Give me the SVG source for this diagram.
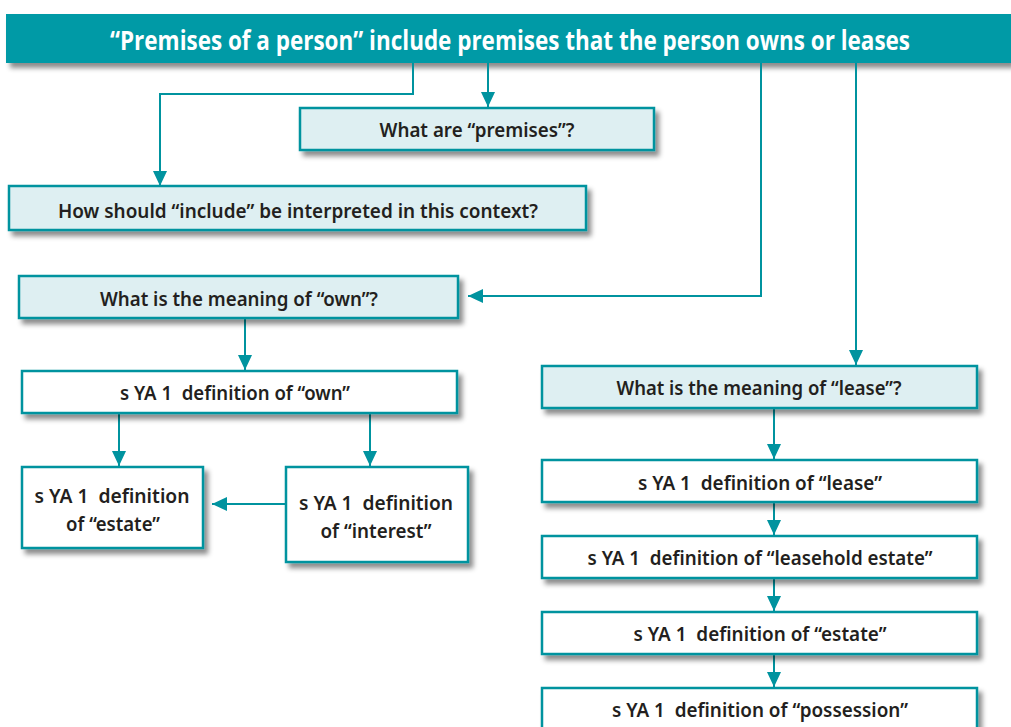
<svg xmlns="http://www.w3.org/2000/svg" width="1011" height="727" viewBox="0 0 1011 727">
<defs>
<filter id="sh" x="-10%" y="-20%" width="130%" height="160%">
<feDropShadow dx="4" dy="5" stdDeviation="2.5" flood-color="#000" flood-opacity="0.45"/>
</filter>
<marker id="ah" viewBox="0 0 15 14" refX="15" refY="7" markerWidth="15" markerHeight="14" markerUnits="userSpaceOnUse" orient="auto">
<path d="M0,0 L15,7 L0,14 Z" fill="#00939F"/>
</marker>
<style>
.q{fill:#DEEFF2;stroke:#00939F;stroke-width:2.5;filter:url(#sh)}
.d{fill:#FFFFFF;stroke:#00939F;stroke-width:2.5;filter:url(#sh)}
.t{font-family:"Noto Sans","Open Sans",sans-serif;font-weight:600;font-size:19.5px;fill:#231F20;text-anchor:middle}
.c{fill:none;stroke:#00939F;stroke-width:2}
</style>
</defs>
<rect width="1011" height="727" fill="#FFFFFF"/>
<g id="banner">
<rect x="6" y="14" width="1005" height="49" fill="#009AA6" filter="url(#sh)"/>
<text transform="translate(510,50) scale(1,1.13)" x="0" y="0" font-family="'Open Sans','Noto Sans',sans-serif" font-weight="700" font-size="23" fill="#FFFFFF" text-anchor="middle" textLength="800" lengthAdjust="spacingAndGlyphs">“Premises of a person” include premises that the person owns or leases</text>
</g>
<g id="connectors">
<polyline class="c" points="413,63 413,94 160,94 160,186" marker-end="url(#ah)"/>
<line class="c" x1="488" y1="63" x2="488" y2="107" marker-end="url(#ah)"/>
<polyline class="c" points="761,63 761,296 468,296" marker-end="url(#ah)"/>
<line class="c" x1="856" y1="63" x2="856" y2="365" marker-end="url(#ah)"/>
<line class="c" x1="245" y1="318" x2="245" y2="370" marker-end="url(#ah)"/>
<line class="c" x1="119" y1="413" x2="119" y2="466" marker-end="url(#ah)"/>
<line class="c" x1="370" y1="413" x2="370" y2="466" marker-end="url(#ah)"/>
<line class="c" x1="286" y1="504" x2="212" y2="504" marker-end="url(#ah)"/>
<line class="c" x1="774" y1="409" x2="774" y2="459" marker-end="url(#ah)"/>
<line class="c" x1="774" y1="503" x2="774" y2="535" marker-end="url(#ah)"/>
<line class="c" x1="774" y1="579" x2="774" y2="611" marker-end="url(#ah)"/>
<line class="c" x1="774" y1="654" x2="774" y2="687" marker-end="url(#ah)"/>
</g>
<g id="premises">
<rect class="q" x="300" y="108" width="354" height="42"/>
<text class="t" x="477" y="137" textLength="195" lengthAdjust="spacingAndGlyphs">What are “premises”?</text>
</g>
<g id="include">
<rect class="q" x="9" y="186" width="577" height="44"/>
<text class="t" x="298" y="218" textLength="480" lengthAdjust="spacingAndGlyphs">How should “include” be interpreted in this context?</text>
</g>
<g id="own-q">
<rect class="q" x="19" y="276" width="439" height="42"/>
<text class="t" x="239" y="306" textLength="278" lengthAdjust="spacingAndGlyphs">What is the meaning of “own”?</text>
</g>
<g id="own-def">
<rect class="d" x="22" y="371" width="435" height="42"/>
<text class="t" x="235" y="400" textLength="230" lengthAdjust="spacingAndGlyphs" xml:space="preserve">s YA 1  definition of “own”</text>
</g>
<g id="estate-left">
<rect class="d" x="22" y="467" width="181" height="81"/>
<text class="t" x="112" y="503" textLength="155" lengthAdjust="spacingAndGlyphs" xml:space="preserve">s YA 1  definition</text>
<text class="t" x="113" y="531" textLength="94" lengthAdjust="spacingAndGlyphs">of “estate”</text>
</g>
<g id="interest">
<rect class="d" x="286" y="467" width="182" height="95"/>
<text class="t" x="376" y="510" textLength="154" lengthAdjust="spacingAndGlyphs" xml:space="preserve">s YA 1  definition</text>
<text class="t" x="376" y="538" textLength="111" lengthAdjust="spacingAndGlyphs">of “interest”</text>
</g>
<g id="lease-q">
<rect class="q" x="542" y="366" width="435" height="42"/>
<text class="t" x="759" y="395" textLength="285" lengthAdjust="spacingAndGlyphs">What is the meaning of “lease”?</text>
</g>
<g id="lease-def">
<rect class="d" x="542" y="460" width="435" height="42"/>
<text class="t" x="760" y="490" textLength="244" lengthAdjust="spacingAndGlyphs" xml:space="preserve">s YA 1  definition of “lease”</text>
</g>
<g id="leasehold">
<rect class="d" x="542" y="536" width="435" height="42"/>
<text class="t" x="760" y="565" textLength="345" lengthAdjust="spacingAndGlyphs" xml:space="preserve">s YA 1  definition of “leasehold estate”</text>
</g>
<g id="estate-right">
<rect class="d" x="542" y="612" width="435" height="42"/>
<text class="t" x="760" y="641" textLength="253" lengthAdjust="spacingAndGlyphs" xml:space="preserve">s YA 1  definition of “estate”</text>
</g>
<g id="possession">
<rect class="d" x="542" y="688" width="435" height="50"/>
<text class="t" x="760" y="717" textLength="296" lengthAdjust="spacingAndGlyphs" xml:space="preserve">s YA 1  definition of “possession”</text>
</g>
</svg>
